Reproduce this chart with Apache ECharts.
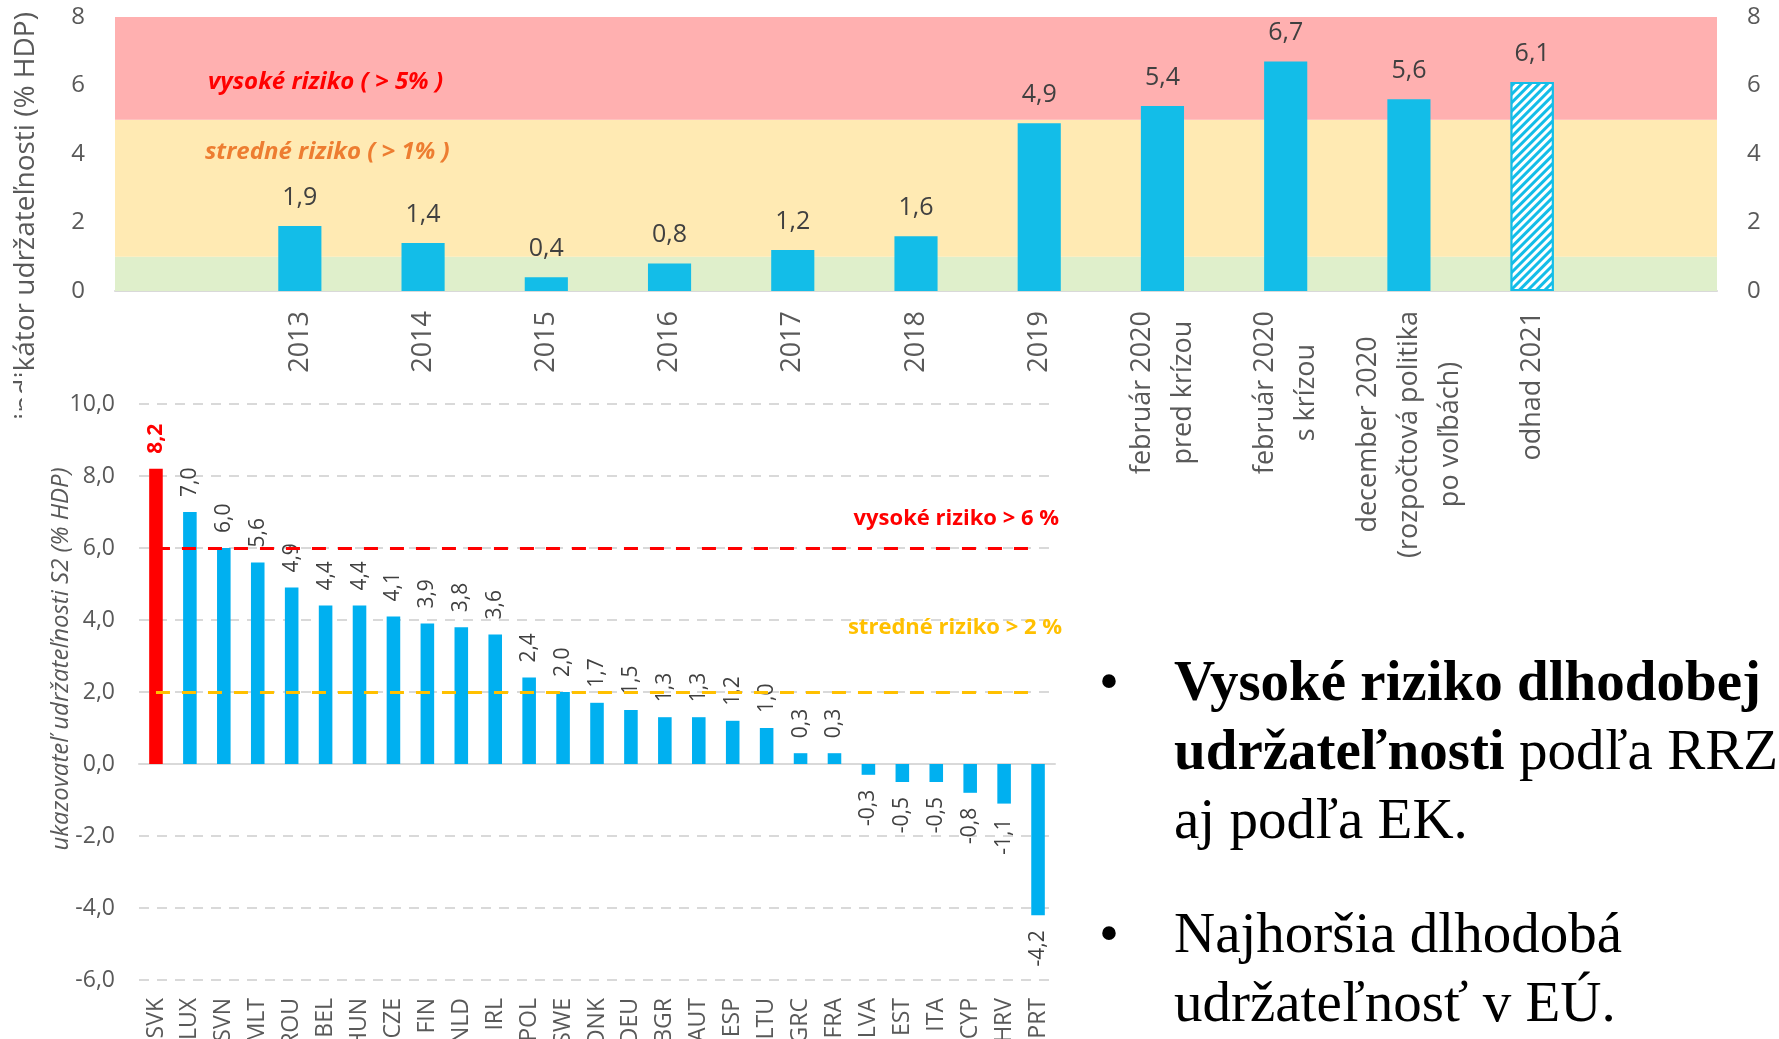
<!DOCTYPE html>
<html>
<head>
<meta charset="utf-8">
<script src="https://cdn.jsdelivr.net/npm/echarts@6/dist/echarts.min.js"></script>
<style>
  html, body { margin: 0; padding: 0; background: #fff; overflow: hidden; }
  #chart { position: absolute; left: 0; top: 0; width: 1779px; height: 1039px; }
  #notes {
    position: absolute; left: 1090px; top: 646px;
    font-family: 'Liberation Serif', serif; font-size: 57px; line-height: 69px;
    color: #000; white-space: nowrap;
  }
  #notes .item { position: relative; padding-left: 84px; margin-bottom: 45px; }
  #notes .item:before { content: '\2022'; position: absolute; left: 9px; }
</style>
</head>
<body>
<div id="chart"></div>
<div id="notes">
  <div class="item"><b>Vysoké riziko dlhodobej<br>udržateľnosti</b> podľa RRZ<br>aj podľa EK.</div>
  <div class="item">Najhoršia dlhodobá<br>udržateľnosť v EÚ.</div>
</div>
<script>
'use strict'

/* Top chart: indikátor udržateľnosti v čase */
var periods = ['2013', '2014', '2015', '2016', '2017', '2018', '2019',
    'február 2020\npred krízou', 'február 2020\ns krízou',
    'december 2020\n(rozpočtová politika\npo voľbách)', 'odhad 2021'];
var indicator = [1.9, 1.4, 0.4, 0.8, 1.2, 1.6, 4.9, 5.4, 6.7, 5.6, 6.1];
var estimatePeriod = 'odhad 2021';
var bandLimits = [0, 1, 5, 8];   // nízke / stredné / vysoké riziko

/* Bottom chart: ukazovateľ S2 v krajinách EÚ */
var countries = ['SVK', 'LUX', 'SVN', 'MLT', 'ROU', 'BEL', 'HUN', 'CZE', 'FIN', 'NLD',
    'IRL', 'POL', 'SWE', 'DNK', 'DEU', 'BGR', 'AUT', 'ESP', 'LTU', 'GRC',
    'FRA', 'LVA', 'EST', 'ITA', 'CYP', 'HRV', 'PRT'];
var s2 = [8.2, 7.0, 6.0, 5.6, 4.9, 4.4, 4.4, 4.1, 3.9, 3.8,
    3.6, 2.4, 2.0, 1.7, 1.5, 1.3, 1.3, 1.2, 1.0, 0.3,
    0.3, -0.3, -0.5, -0.5, -0.8, -1.1, -4.2];
var highlight = 'SVK';
var highRisk = 6;
var midRisk = 2;

var comma = function (v) { return (+v).toFixed(1).replace('.', ','); };
var grey = '#595959';
var font = 'Open Sans';

// padding categories on both sides like in the source chart
var topCats = [''].concat(periods).concat(['']);
var topData = [null].concat(indicator.map(function (v, i) {
    if (periods[i] !== estimatePeriod) return v;
    return {
        value: v,
        itemStyle: {
            color: '#fff', borderColor: '#13bde8', borderWidth: 2,
            decal: {
                symbol: 'rect', symbolSize: 1, dashArrayX: [1, 0], dashArrayY: [2.5, 2.5],
                rotation: -Math.PI / 4, color: '#13bde8', backgroundColor: '#fff'
            }
        }
    };
})).concat([null]);

var bandColors = ['#dfefcb', '#ffeab3', '#ffb0b0'];
var bands = [];
for (var b = 0; b < 3; b++) {
    bands.push([
        { xAxis: 0, yAxis: bandLimits[b], itemStyle: { color: bandColors[b] } },
        { xAxis: topCats.length - 1, yAxis: bandLimits[b + 1] }
    ]);
}

var s2Data = s2.map(function (v, i) {
    var item = { value: v };
    item.label = v < 0
        ? { position: 'bottom', align: 'right', verticalAlign: 'middle' }
        : { position: 'top', align: 'left', verticalAlign: 'middle' };
    if (countries[i] === highlight) {
        item.itemStyle = { color: '#ff0000' };
        item.label.color = '#ff0000';
        item.label.fontWeight = 'bold';
    }
    return item;
});

var chart = echarts.init(document.getElementById('chart'));

chart.setOption({
    animation: false,
    grid: [
        { left: 115, top: 17, width: 1602, height: 274, outerBoundsMode: 'none' },
        { left: 139, top: 404, width: 916, height: 576, outerBoundsMode: 'none' }
    ],
    xAxis: [{
        gridIndex: 0,
        type: 'category',
        data: topCats,
        axisLine: { lineStyle: { color: '#d9d9d9', width: 2 } },
        axisTick: { show: false },
        axisLabel: {
            interval: 0,
            rotate: 90,
            margin: 20,
            color: grey,
            fontFamily: font,
            fontSize: 27,
            lineHeight: 41,
            formatter: function (v) {
                if (!v) return '';
                return v.split('\n').map(function (s) { return '{c|' + s + '}'; }).join('\n');
            },
            rich: {
                c: { align: 'center', color: grey, fontFamily: font, fontSize: 27, lineHeight: 41 }
            }
        }
    }, {
        gridIndex: 1,
        type: 'category',
        data: countries,
        axisLine: { show: false, onZero: false },
        axisTick: { show: false },
        axisLabel: {
            interval: 0,
            rotate: 90,
            margin: 18,
            color: grey,
            fontFamily: font,
            fontSize: 23
        }
    }, {
        // zero line of the S2 chart
        gridIndex: 1,
        type: 'category',
        position: 'top',
        data: countries,
        axisLine: { onZero: true, lineStyle: { color: '#d9d9d9', width: 2 } },
        axisTick: { show: false },
        axisLabel: { show: false }
    }],
    yAxis: [{
        gridIndex: 0,
        min: 0, max: 8, interval: 2,
        axisLine: { show: false },
        splitLine: { show: false },
        axisLabel: { margin: 30, color: grey, fontFamily: font, fontSize: 24 }
    }, {
        gridIndex: 0,
        position: 'right',
        min: 0, max: 8, interval: 2,
        axisLine: { show: false },
        splitLine: { show: false },
        axisLabel: { margin: 30, color: grey, fontFamily: font, fontSize: 24 }
    }, {
        gridIndex: 1,
        min: -6, max: 10, interval: 2,
        axisLine: { show: false },
        splitLine: { lineStyle: { color: '#d9d9d9', width: 2, type: [10, 8] } },
        axisLabel: { margin: 24, color: grey, fontFamily: font, fontSize: 23, formatter: comma },
        name: 'ukazovateľ udržateľnosti S2 (% HDP)',
        nameLocation: 'middle',
        nameGap: 66,
        nameMoveOverlap: false,
        nameTextStyle: {
            color: grey, fontFamily: font, fontSize: 24, fontStyle: 'italic',
            padding: [0, 0, 0, 66]   // sits a bit above the axis middle
        }
    }],
    series: [{
        type: 'bar',
        xAxisIndex: 0,
        yAxisIndex: 0,
        barWidth: '35%',
        data: topData,
        itemStyle: { color: '#13bde8' },
        label: {
            show: true,
            position: 'top',
            distance: 16,
            color: '#404040',
            fontFamily: font,
            fontSize: 25,
            formatter: function (p) { return comma(p.value); }
        },
        markArea: { silent: true, data: bands }
    }, {
        type: 'bar',
        xAxisIndex: 1,
        yAxisIndex: 2,
        barWidth: '40%',
        data: s2Data,
        itemStyle: { color: '#00b0f0' },
        label: {
            show: true,
            rotate: 90,
            distance: 15,
            color: '#404040',
            fontFamily: font,
            fontSize: 21,
            formatter: function (p) { return comma(p.value); }
        },
        markLine: {
            silent: true,
            symbol: 'none',
            data: [
                [{ coord: [countries[0], highRisk], lineStyle: { color: '#ff0000' },
                   label: { formatter: 'vysoké riziko > ' + highRisk + ' %', color: '#ff0000', offset: [26, -13] } },
                 { coord: [countries[countries.length - 1], highRisk] }],
                [{ coord: [countries[0], midRisk], lineStyle: { color: '#ffc000' },
                   label: { formatter: 'stredné riziko > ' + midRisk + ' %', color: '#ffc000', offset: [29, -48] } },
                 { coord: [countries[countries.length - 1], midRisk] }]
            ],
            lineStyle: { width: 3, type: [14, 12] },
            label: {
                show: true,
                position: 'insideEndTop',
                fontFamily: font,
                fontWeight: 'bold',
                fontSize: 22
            }
        }
    }],
    graphic: [{
        type: 'text', x: 26, y: 216, rotation: Math.PI / 2, z: -2,
        style: {
            text: 'indikátor udržateľnosti (% HDP)', fill: grey,
            fontFamily: font, fontSize: 28, align: 'center', verticalAlign: 'middle'
        }
    }, {
        // the lower chart sits over the end of the upper axis title
        type: 'rect', z: -1,
        shape: { x: 22, y: 372, width: 110, height: 70 },
        style: { fill: '#fff' }
    }, {
        type: 'text', x: 208, y: 82, z: 10,
        style: {
            text: 'vysoké riziko ( > 5% )', fill: '#ff0000',
            fontFamily: font, fontSize: 24, fontWeight: 'bold', fontStyle: 'italic', verticalAlign: 'middle'
        }
    }, {
        type: 'text', x: 205, y: 152, z: 10,
        style: {
            text: 'stredné riziko ( > 1% )', fill: '#ed7d31',
            fontFamily: font, fontSize: 24, fontWeight: 'bold', fontStyle: 'italic', verticalAlign: 'middle'
        }
    }]
});
</script>
</body>
</html>
